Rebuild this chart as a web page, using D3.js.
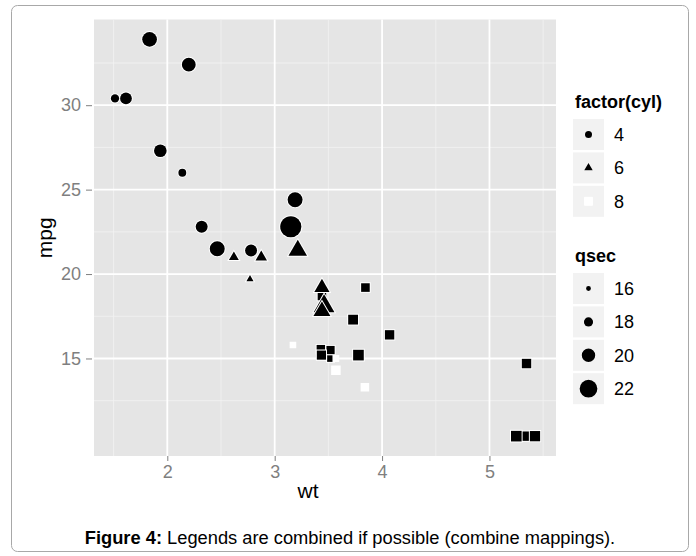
<!DOCTYPE html>
<html>
<head>
<meta charset="utf-8">
<script src="https://cdn.jsdelivr.net/npm/d3@7"></script>
<style>
  body { margin: 0; background: #fff; }
  text { font-family: Arial, "Liberation Sans", Helvetica, sans-serif; }
</style>
</head>
<body>
<svg id="chart" width="696" height="556"></svg>
<script>
// Car weight (1000 lbs), fuel economy, cylinders and quarter-mile time
const wt   = [5.345, 3.430, 3.520,
              2.620, 2.875, 2.320, 3.215, 3.440, 3.460, 3.570, 3.190, 3.150, 3.440,
              3.440, 4.070, 3.730, 3.780, 5.250, 5.424, 5.345, 2.200, 1.615, 1.835,
              2.465, 3.520, 3.435, 3.840, 3.845, 1.935, 2.140, 1.513, 3.170, 2.770,
              3.570, 2.780];
const mpg  = [10.4, 15.55, 15.0,
              21.0, 21.0, 22.8, 21.4, 18.7, 18.1, 14.3, 24.4, 22.8, 19.2,
              17.8, 16.4, 17.3, 15.2, 10.4, 10.4, 14.7, 32.4, 30.4, 33.9,
              21.5, 15.5, 15.2, 13.3, 19.2, 27.3, 26.0, 30.4, 15.8, 19.7,
              15.0, 21.4];
const cyl  = [8, 8, 8,
              6, 6, 4, 6, 8, 6, 8, 4, 4, 6,
              6, 8, 8, 8, 8, 8, 8, 4, 4, 4,
              4, 8, 8, 8, 8, 4, 4, 4, 8, 6,
              8, 4];
const qsec = [17.42, 17.0, 16.2,
              16.46, 17.02, 18.61, 19.44, 17.02, 20.22, 15.84, 20.00, 22.90, 18.30,
              18.90, 17.40, 17.60, 18.00, 17.98, 17.82, 17.42, 19.47, 18.52, 19.90,
              20.01, 16.87, 17.30, 15.41, 17.05, 18.90, 16.70, 16.90, 14.50, 15.50,
              14.60, 18.60];

const xTicks = [2, 3, 4, 5];
const yTicks = [15, 20, 25, 30];
const cylLevels = [4, 6, 8];
const qsecBreaks = [16, 18, 20, 22];

const svg = d3.select("#chart");
const panel = { left: 94, right: 556, top: 19.5, bottom: 456 };
const smallFont = "18px", titleFont = "21px";

// 5% expansion of the data range on both axes
function expand(ext) { const p = (ext[1] - ext[0]) * 0.05; return [ext[0] - p, ext[1] + p]; }
const x = d3.scaleLinear().domain(expand(d3.extent(wt))).range([panel.left, panel.right]);
const y = d3.scaleLinear().domain(expand(d3.extent(mpg))).range([panel.bottom, panel.top]);

// Point diameter from qsec
const diam = q => Math.max(2, 8.5 + 2.15 * (q - 17));
const shapeOf = { 4: d3.symbolCircle, 6: d3.symbolTriangle, 8: d3.symbolSquare };
const isHollow = (c, q) => c === 8 && q < 16;

function symbolPath(c, q, dOverride) {
  const d = dOverride != null ? dOverride : diam(q);
  if (c === 8) {
    const side = isHollow(c, q) ? d + 1.5 : d;
    return d3.symbol(d3.symbolSquare, side * side)();
  }
  return d3.symbol(shapeOf[c], Math.PI * (d / 2) * (d / 2))();
}

// Outer figure frame
svg.append("rect").attr("x", 11.5).attr("y", 5.5).attr("width", 677).attr("height", 546)
  .attr("rx", 6).attr("fill", "#fff").attr("stroke", "#a8a8a8").attr("stroke-width", 1);

// Panel background
svg.append("rect").attr("x", panel.left).attr("y", panel.top)
  .attr("width", panel.right - panel.left).attr("height", panel.bottom - panel.top)
  .attr("fill", "#e5e5e5");

// Minor grid
const xMinor = [1.5, 2.5, 3.5, 4.5, 5.5];
const yMinor = [12.5, 17.5, 22.5, 27.5, 32.5];
const grid = svg.append("g");
grid.selectAll(".xm").data(xMinor).join("line")
  .attr("x1", d => x(d)).attr("x2", d => x(d)).attr("y1", panel.top).attr("y2", panel.bottom)
  .attr("stroke", "#f2f2f2").attr("stroke-width", 0.8);
grid.selectAll(".ym").data(yMinor).join("line")
  .attr("y1", d => y(d)).attr("y2", d => y(d)).attr("x1", panel.left).attr("x2", panel.right)
  .attr("stroke", "#f2f2f2").attr("stroke-width", 0.8);
// Major grid
grid.selectAll(".xM").data(xTicks).join("line")
  .attr("x1", d => x(d)).attr("x2", d => x(d)).attr("y1", panel.top).attr("y2", panel.bottom)
  .attr("stroke", "#fff").attr("stroke-width", 1.8);
grid.selectAll(".yM").data(yTicks).join("line")
  .attr("y1", d => y(d)).attr("y2", d => y(d)).attr("x1", panel.left).attr("x2", panel.right)
  .attr("stroke", "#fff").attr("stroke-width", 1.8);

// Axes
const xAxis = svg.append("g").attr("transform", `translate(0,${panel.bottom})`)
  .call(d3.axisBottom(x).tickValues(xTicks).tickSize(5).tickPadding(4).tickFormat(d3.format("d")));
const yAxis = svg.append("g").attr("transform", `translate(${panel.left - 2},0)`)
  .call(d3.axisLeft(y).tickValues(yTicks).tickSize(6).tickPadding(5).tickFormat(d3.format("d")));
[xAxis, yAxis].forEach(a => {
  a.select(".domain").remove();
  a.selectAll(".tick line").attr("stroke", "#7f7f7f").attr("stroke-width", 1);
  a.selectAll(".tick text").attr("fill", "#7f7f7f").style("font-size", smallFont)
    .style("font-family", "Arial, 'Liberation Sans', sans-serif");
});

// Axis titles
svg.append("text").attr("x", 308).attr("y", 498)
  .attr("text-anchor", "middle").style("font-size", titleFont).text("wt");
svg.append("text").attr("transform", `translate(52,${(panel.top + panel.bottom) / 2}) rotate(-90)`)
  .attr("text-anchor", "middle").style("font-size", titleFont).text("mpg");

// Points
const idx = d3.range(wt.length);
svg.append("g").selectAll("path").data(idx).join("path")
  .attr("transform", i => `translate(${x(wt[i])},${y(mpg[i])})`)
  .attr("d", i => symbolPath(cyl[i], qsec[i]))
  .attr("fill", i => isHollow(cyl[i], qsec[i]) ? "#fff" : "#000")
  .attr("stroke", "#fff").attr("stroke-width", 2)
  .style("paint-order", "stroke");

// Legends
const lg = svg.append("g");
const keyX = 573, keyW = 31, keyH = 31, keyPitch = 33.4, labelX = 614;

function legend(title, titleY, keys, firstTop) {
  lg.append("text").attr("x", 575).attr("y", titleY).style("font-size", smallFont)
    .style("font-weight", "bold").text(title);
  keys.forEach((k, j) => {
    const top = firstTop + j * keyPitch;
    lg.append("rect").attr("x", keyX).attr("y", top).attr("width", keyW).attr("height", keyH)
      .attr("fill", "#f2f2f2");
    lg.append("path").attr("transform", `translate(${keyX + keyW / 2},${top + keyH / 2})`)
      .attr("d", k.path).attr("fill", k.fill).attr("stroke", "#fff").attr("stroke-width", 1)
      .style("paint-order", "stroke");
    lg.append("text").attr("x", labelX).attr("y", top + keyH / 2).attr("dy", "0.36em")
      .style("font-size", smallFont).text(k.label);
  });
}

legend("factor(cyl)", 108,
  cylLevels.map(c => ({
    label: c,
    path: c === 8 ? d3.symbol(d3.symbolSquare, 64)() : symbolPath(c, 17, c === 6 ? 6.3 : 7),
    fill: c === 8 ? "#fff" : "#000"
  })), 119);

legend("qsec", 262,
  qsecBreaks.map(q => ({ label: q, path: symbolPath(4, q, diam(q) - 1.5), fill: "#000" })), 273);

// Caption
const cap = svg.append("text").attr("x", 350).attr("y", 544).attr("text-anchor", "middle")
  .style("font-size", "18.3px");
cap.append("tspan").style("font-weight", "bold").text("Figure 4:");
cap.append("tspan").text(" Legends are combined if possible (combine mappings).");
</script>
</body>
</html>
